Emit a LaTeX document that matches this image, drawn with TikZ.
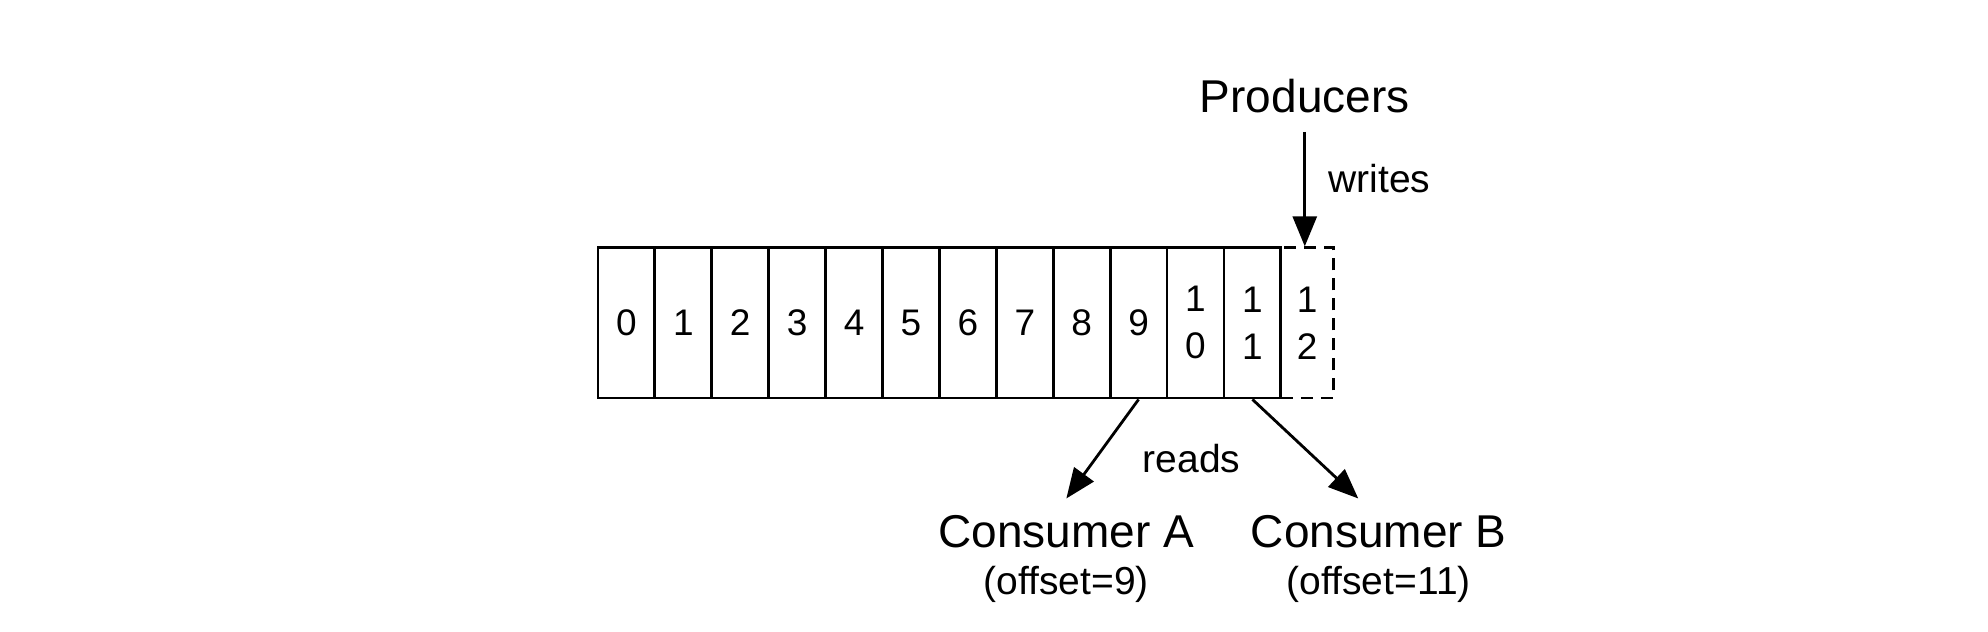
\documentclass[tikz,border=0pt]{standalone}
\usepackage{fontspec}
\setmainfont{Liberation Sans}
\usetikzlibrary{arrows.meta}

\begin{document}
\begin{tikzpicture}[
    cell/.style={draw, line width=1.4pt, minimum width=1cm, minimum height=2.64cm, inner sep=0pt, align=center, font=\fontsize{18.5}{23.5}\selectfont},
    arr/.style={-{Triangle[length=15pt, width=12pt]}, line width=1.4pt},
    big/.style={inner sep=0pt, font=\fontsize{23}{27}\selectfont},
    small/.style={inner sep=0pt, font=\fontsize{19.5}{23}\selectfont}
]
    \useasboundingbox (-10.508,-4.094) rectangle (24.426,6.994);

    % The log, one cell per offset
    \node[cell, dash pattern=on 6pt off 4pt, minimum width=0.92cm] (c12) at (12.46,1.32) {1\\2};
    \foreach \i in {0,...,9}
        \node[cell] (c\i) at (\i+0.5,1.32) {\i};
    \node[cell] (c10) at (10.5,1.32) {1\\0};
    \node[cell] (c11) at (11.5,1.32) {1\\1};

    % Producers append at the end
    \node[big, anchor=base] (prod) at (12.42,5.01) {Producers};
    \draw[arr] ([yshift=-9pt]prod.south) -- (prod.south |- c12.north);
    \node[small, anchor=base west] (writes) at (12.83,3.62) {writes};

    % Consumers read at their own offsets
    \node[big, anchor=base] (consA) at (8.23,-2.618) {Consumer A};
    \node[small, anchor=base] (offA) at ([yshift=-23.5pt]consA.base) {(offset=9)};
    \node[big, anchor=base] (consB) at (13.72,-2.618) {Consumer B};
    \node[small, anchor=base] (offB) at ([yshift=-23.5pt]consB.base) {(offset=11)};
    \draw[arr] (c9.south) -- ([yshift=8pt]consA.north);
    \draw[arr] (c11.south) -- ([xshift=-0.36cm, yshift=8pt]consB.north);
    \node[small, anchor=base] (reads) at (10.43,-1.30) {reads};
\end{tikzpicture}
\end{document}
